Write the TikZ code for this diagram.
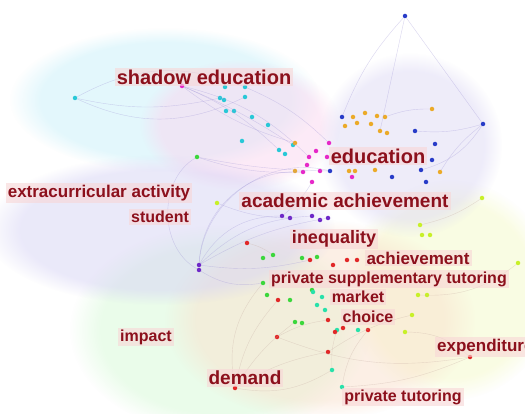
\documentclass[tikz,border=0pt]{standalone}
\usepackage{fontspec}
\usetikzlibrary{fadings}
\setmainfont{Liberation Sans}
\definecolor{lblred}{RGB}{140,16,28}
\definecolor{boxpink}{RGB}{248,214,214}
\definecolor{ccyan}{RGB}{40,200,215}
\definecolor{cmag}{RGB}{230,40,200}
\definecolor{corange}{RGB}{235,170,40}
\definecolor{cblue}{RGB}{40,60,200}
\definecolor{cpurple}{RGB}{110,40,200}
\definecolor{cyell}{RGB}{200,240,40}
\definecolor{cgreen}{RGB}{60,215,60}
\definecolor{cteal}{RGB}{40,225,170}
\definecolor{cred}{RGB}{225,40,40}
\definecolor{edgecol}{RGB}{160,150,215}
\definecolor{edgegray}{RGB}{200,175,165}
\definecolor{bcyan}{RGB}{200,240,250}
\definecolor{bpink}{RGB}{250,215,240}
\definecolor{blav}{RGB}{222,218,245}
\definecolor{blav2}{RGB}{215,212,245}
\definecolor{bgreen}{RGB}{215,250,215}
\definecolor{bpeach}{RGB}{250,225,205}
\definecolor{byell}{RGB}{245,250,200}
\tikzset{
  dot/.style={circle,fill=#1,inner sep=0pt,minimum size=4.5pt},
  lbl/.style={text=lblred,fill=boxpink,fill opacity=0.6,text opacity=1,inner sep=2pt,font=\bfseries\fontsize{#1}{#1}\selectfont},
  edge/.style={draw=edgecol,opacity=0.4,line width=0.4pt},
  edgeg/.style={draw=edgegray,opacity=0.4,line width=0.4pt},
  blob/.style={fill=#1,opacity=0.5,draw=none,path fading=circle with fuzzy edge 20 percent}
}
\begin{document}
\begin{tikzpicture}[x=1pt,y=-1pt]
\useasboundingbox (0,0) rectangle (525,414);
\fill[white] (0,0) rectangle (525,414);
% cluster areas
\fill[blob=bcyan] (165,100) ellipse [x radius=155, y radius=72];
\fill[blob=bpink] (240,125) ellipse [x radius=100, y radius=65];
\fill[blob=byell] (450,290) ellipse [x radius=105, y radius=110];
\fill[blob=bgreen] (220,330) ellipse [x radius=150, y radius=105];
\fill[blob=bpeach] (320,320) ellipse [x radius=155, y radius=100];
\fill[blob=blav2] (160,230) ellipse [x radius=175, y radius=75];
\fill[blob=blav] (410,145) circle [radius=92];
% dots
\foreach \x/\y [count=\i] in {75/98,225/87,245/87,220/98,224/100,245/97,226/111,234/111,252/117,268/125,242/141,279/150,285/154,293/145}
  \node[dot=ccyan] (cy\i) at (\x,\y) {};
\foreach \x/\y [count=\i] in {182/86,329/143,316/151,309/157,327/157,303/172,320/171,312/182,352/177,307/165}
  \node[dot=cmag] (mg\i) at (\x,\y) {};
\foreach \x/\y [count=\i] in {353/117,365/113,377/116,385/117,345/126,357/123,371/124,380/131,387/133,432/109,295/143,349/171,295/171,355/171,440/172,375/170}
  \node[dot=corange] (or\i) at (\x,\y) {};
\foreach \x/\y [count=\i] in {405/16,483/124,415/131,435/144,432/160,421/170,426/182,392/177,330/171,342/117}
  \node[dot=cblue] (bl\i) at (\x,\y) {};
\foreach \x/\y [count=\i] in {282/216,290/218,312/216,320/220,328/218,199/265,199/270}
  \node[dot=cpurple] (pu\i) at (\x,\y) {};
\foreach \x/\y [count=\i] in {482/198,420/225,422/235,430/235,518/263,418/295,427/295,412/315,405/332,217/203}
  \node[dot=cyell] (ye\i) at (\x,\y) {};
\foreach \x/\y [count=\i] in {197/157,263/258,273/255,302/258,317/257,263/283,267/295,290/300,295/322,302/323,312/290}
  \node[dot=cgreen] (gr\i) at (\x,\y) {};
\foreach \x/\y [count=\i] in {313/292,322/297,317/305,325/310,337/330,358/330,332/370,342/387}
  \node[dot=cteal] (te\i) at (\x,\y) {};
\foreach \x/\y [count=\i] in {247/243,310/260,333/265,347/260,357/260,278/300,328/320,335/332,343/328,368/330,277/337,328/352,470/357,235/388}
  \node[dot=cred] (rd\i) at (\x,\y) {};
% connectors
\draw[edge] (cy1) to[bend left=25] (cy3);
\draw[edge] (cy1) to[bend right=25] (cy6);
\draw[edge] (cy1) to[bend right=12] (cy4);
\draw[edge] (mg1) to[bend left=10] (cy12);
\draw[edge] (mg1) to[bend left=15] (mg4);
\draw[edge] (mg1) to[bend right=10] (or11);
\draw[edge] (mg1) to[bend left=5] (cy14);
\draw[edge] (cy3) to[bend left=10] (mg2);
\draw[edge] (bl1) -- (or8);
\draw[edge] (bl1) -- (bl2);
\draw[edge] (bl1) to[bend right=10] (bl10);
\draw[edge] (bl2) to[bend left=20] (bl6);
\draw[edge] (bl2) to[bend right=10] (or15);
\draw[edge] (bl2) to[bend left=10] (bl3);
\draw[edge] (or10) to[bend right=10] (or4);
\draw[edge] (gr1) to[bend right=10] (mg6);
\draw[edge] (gr1) to[bend right=5] (bl9);
\draw[edge] (pu6) to[bend left=30] (pu1);
\draw[edge] (pu6) to[bend left=20] (pu3);
\draw[edge] (pu6) to[bend left=10] (pu5);
\draw[edge] (pu6) to[bend right=10] (rd2);
\draw[edge] (pu7) to[bend right=20] (gr6);
\draw[edge] (pu6) to[bend left=45] (mg6);
\draw[edge] (pu6) to[bend left=50] (bl9);
\draw[edge] (pu7) to[bend left=60] (gr1);
\draw[edge] (ye10) to[bend right=10] (pu2);
\draw[edge] (pu1) to[bend right=10] (mg8);
\draw[edgeg] (rd14) to[bend left=15] (rd6);
\draw[edgeg] (rd14) to[bend left=10] (rd12);
\draw[edgeg] (rd14) to[bend right=20] (te7);
\draw[edgeg] (rd14) to[bend left=25] (gr6);
\draw[edgeg] (rd11) to[bend left=10] (rd7);
\draw[edgeg] (rd11) to[bend right=15] (rd13);
\draw[edgeg] (te8) to[bend left=15] (rd10);
\draw[edgeg] (te8) to[bend right=10] (rd13);
\draw[edgeg] (te7) to[bend left=10] (te5);
\draw[edgeg] (rd13) to[bend right=20] (ye9);
\draw[edgeg] (ye5) to[bend left=20] (ye6);
\draw[edgeg] (ye1) to[bend left=10] (ye2);
\draw[edgeg] (rd12) to[bend left=10] (ye8);
\draw[edgeg] (gr9) to[bend right=10] (rd14);
\draw[edgeg] (rd1) to[bend left=10] (gr3);
% labels
\node[lbl=20] (l1) at (204,77) {shadow education};
\node[lbl=20] (l2) at (378,156) {education};
\node[lbl=19] (l3) at (345,201) {academic achievement};
\node[lbl=17] (l4) at (99,193) {extracurricular activity};
\node[lbl=16] (l5) at (160,217) {student};
\node[lbl=18] (l6) at (334,239) {inequality};
\node[lbl=17] (l7) at (418,258) {achievement};
\node[lbl=16] (l8) at (389,279) {private supplementary tutoring};
\node[lbl=16] (l9) at (358,297) {market};
\node[lbl=16] (l10) at (368,317) {choice};
\node[lbl=16] (l11) at (146,337) {impact};
\node[lbl=17,anchor=west] (l12) at (435,347) {expenditure};
\node[lbl=19] (l13) at (245,378) {demand};
\node[lbl=16] (l14) at (403,397) {private tutoring};
\end{tikzpicture}
\end{document}
